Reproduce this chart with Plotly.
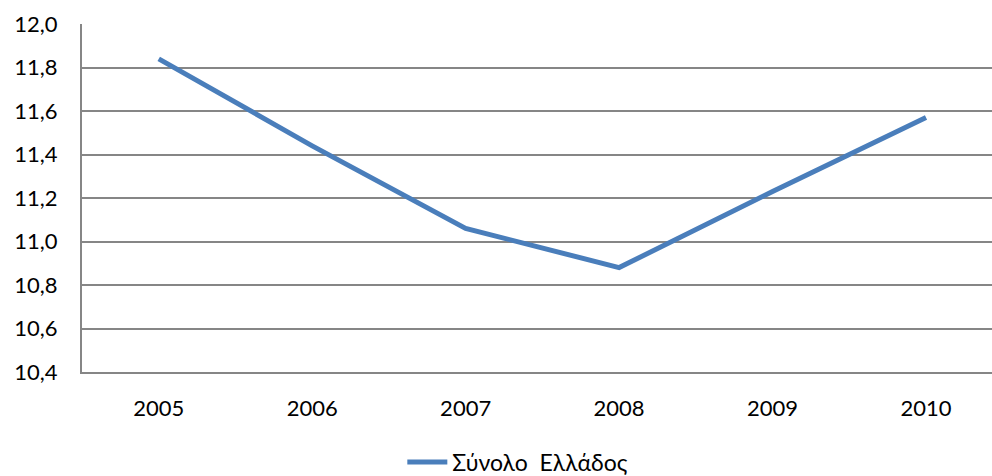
import plotly.graph_objects as go

years = ["2005", "2006", "2007", "2008", "2009", "2010"]
values = [11.84, 11.44, 11.06, 10.88, 11.23, 11.57]
series_name = "Σύνολο  Ελλάδος"
y_ticks = [10.4, 10.6, 10.8, 11.0, 11.2, 11.4, 11.6, 11.8, 12.0]

FONT = "Lato"
fig = go.Figure()
fig.add_trace(go.Scatter(
    x=years, y=values, mode="lines", name=series_name,
    line=dict(color="#4A7EBB", width=5),
))

fig.update_layout(
    width=992, height=476,
    margin=dict(l=82, r=0, t=24, b=104, autoexpand=False),
    paper_bgcolor="white", plot_bgcolor="white",
    separators=",.",
    font=dict(family=FONT, size=22, color="black"),
    showlegend=True,
    legend=dict(orientation="h", x=0.352, xanchor="left", y=-0.2586, yanchor="middle",
                font=dict(family=FONT, size=23, color="black"), itemwidth=40),
)
fig.update_xaxes(
    type="category", range=[-0.5, 5.43],
    showgrid=False, showline=True, linecolor="#868686", linewidth=2,
    ticks="", ticklabelstandoff=16,
)
fig.update_yaxes(
    range=[10.4, 12.0], tickvals=y_ticks, tickformat=".1f",
    showgrid=True, gridcolor="#868686", gridwidth=1.5,
    showline=True, linecolor="#868686", linewidth=2,
    zeroline=False, ticks="", ticklabelstandoff=18,
)
fig.write_html(
    "out.html",
    config={"displayModeBar": False},
    post_script="document.body.style.margin='0';document.body.style.padding='0';document.body.style.overflow='hidden';",
)
